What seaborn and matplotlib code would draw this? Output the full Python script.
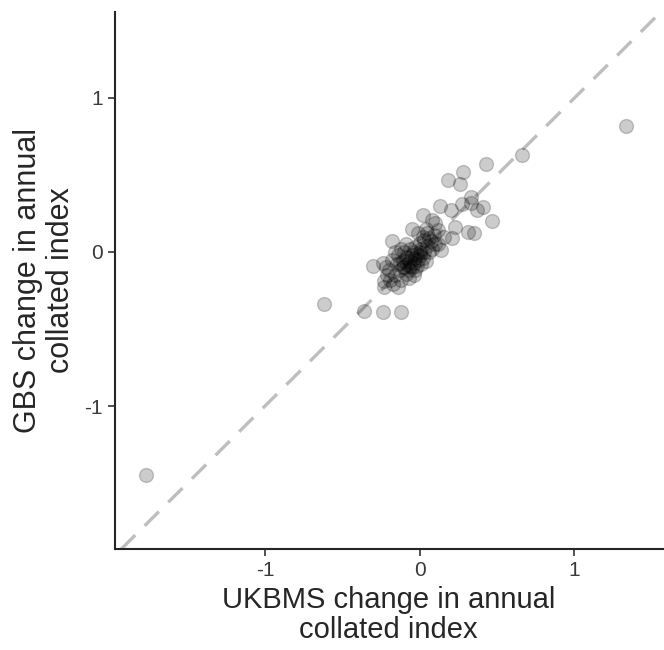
import matplotlib
matplotlib.use('Agg')
import matplotlib.pyplot as plt
import seaborn as sns
import pandas as pd

# UKBMS vs GBS change in annual collated index
ukbms = [-1.77, 1.33, 0.66, -0.62, 0.43, 0.18, 0.28, 0.26, 0.33, 0.41, 0.37, 0.47,
         0.13, 0.20, 0.27, 0.33, 0.02, -0.05, 0.23, 0.31, 0.35, 0.21, 0.08, -0.18,
         -0.30, -0.24, -0.23, -0.23, -0.14, -0.36, -0.24, -0.12, 0.14, 0.10, 0.12, 0.16,
         -0.20, -0.18, -0.16, -0.15, -0.14, -0.13, -0.12, -0.11, -0.10, -0.10, -0.09, -0.08,
         -0.08, -0.07, -0.06, -0.06, -0.05, -0.05, -0.04, -0.04, -0.03, -0.03, -0.02, -0.02,
         -0.01, 0.00, 0.00, 0.01, 0.01, 0.02, 0.03, 0.03, 0.04, 0.05, 0.05, 0.06,
         0.07, 0.08, 0.09, 0.10, -0.22, -0.19, -0.17, -0.21, -0.12, -0.16, -0.09, -0.07,
         -0.03, 0.02, 0.04, -0.01, 0.06, 0.12, -0.13, -0.11, -0.06, -0.09, 0.00, -0.04]
gbs = [-1.45, 0.82, 0.63, -0.34, 0.57, 0.47, 0.52, 0.44, 0.36, 0.29, 0.27, 0.20,
       0.30, 0.27, 0.31, 0.32, 0.24, 0.15, 0.16, 0.13, 0.12, 0.09, 0.21, 0.07,
       -0.09, -0.07, -0.19, -0.23, -0.23, -0.38, -0.39, -0.39, 0.01, 0.19, 0.05, 0.10,
       -0.12, -0.05, -0.15, -0.08, -0.02, -0.12, -0.18, -0.06, -0.10, 0.00, -0.14, -0.04,
       -0.08, -0.12, 0.02, -0.06, -0.10, -0.02, -0.15, -0.07, 0.03, -0.04, -0.09, -0.01,
       -0.05, 0.06, -0.02, -0.08, 0.02, -0.04, 0.08, 0.00, -0.06, 0.04, 0.12, 0.00,
       0.07, 0.02, 0.11, 0.05, -0.10, -0.18, -0.21, -0.15, 0.02, 0.00, 0.05, -0.17,
       -0.12, 0.10, 0.15, 0.12, 0.09, 0.14, -0.07, -0.10, -0.09, -0.03, 0.00, 0.00]

df = pd.DataFrame({'ukbms': ukbms, 'gbs': gbs})

sns.set_style('ticks')
plt.rcParams['font.family'] = ['Liberation Sans', 'DejaVu Sans']
plt.rcParams['axes.unicode_minus'] = False

fig = plt.figure(figsize=(6.64, 6.5), dpi=100)
ax = fig.add_axes([0.173, 0.155, 0.825, 0.827])

ax.axline((0, 0), slope=1, color='#bebebe', lw=2.4, ls=(0, (6, 4)), zorder=1)
sns.scatterplot(data=df, x='ukbms', y='gbs', ax=ax, s=100, color='black',
                alpha=0.2, edgecolor='black', linewidth=1, zorder=2)

ax.set_xlim(-1.97, 1.57)
ax.set_ylim(-1.93, 1.56)
ax.set_xticks([-1, 0, 1])
ax.set_yticks([-1, 0, 1])
ax.tick_params(labelsize=15, labelcolor='#3a3a3a', length=5, width=1.2, color='#333333')
for s in ['left', 'bottom']:
    ax.spines[s].set_linewidth(1.5)
sns.despine(ax=ax)

ax.set_xlabel('UKBMS change in annual\ncollated index', fontsize=21, linespacing=1.1, labelpad=4)
ax.set_ylabel('GBS change in annual\ncollated index', fontsize=22, linespacing=1.15, labelpad=6)

plt.savefig('out.png', dpi=100)
